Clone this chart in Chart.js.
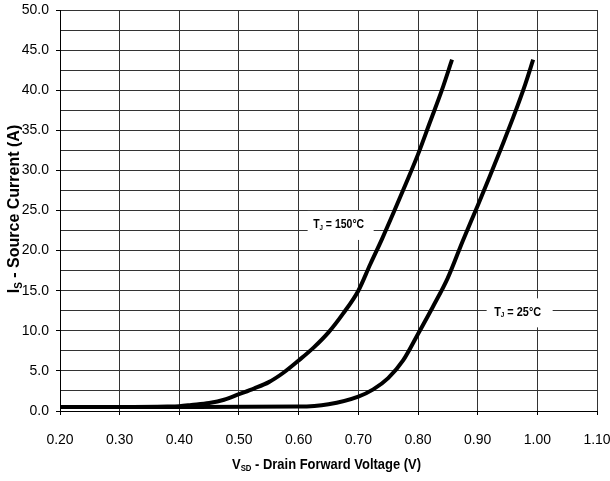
<!DOCTYPE html>
<html>
<head>
<meta charset="utf-8">
<script src="https://cdn.jsdelivr.net/npm/chart.js@4.4.1/dist/chart.umd.min.js"></script>
<style>
  html, body { margin: 0; padding: 0; background: #fff; }
  canvas { display: block; }
</style>
</head>
<body>
<canvas id="chartDiodo" width="610" height="481"></canvas>
<script>
// Curva T_J = 150°C
const voltaje150 = [0.20, 0.30, 0.38, 0.40, 0.42, 0.45, 0.475, 0.50, 0.525, 0.55, 0.575, 0.60, 0.625, 0.65, 0.675, 0.70, 0.72, 0.74, 0.76, 0.78, 0.80, 0.82, 0.84, 0.857]
const corriente150 = [0.5, 0.5, 0.55, 0.6, 0.75, 1.0, 1.4, 2.1, 2.8, 3.6, 4.8, 6.3, 7.9, 9.8, 12.2, 15.0, 18.3, 21.5, 24.9, 28.4, 32.0, 36.0, 40.0, 43.8]

// Curva T_J = 25°C
const voltaje25 = [0.20, 0.40, 0.60, 0.65, 0.70, 0.725, 0.75, 0.775, 0.80, 0.825, 0.85, 0.875, 0.90, 0.92, 0.94, 0.96, 0.98, 0.993]
const corriente25 = [0.5, 0.5, 0.55, 0.85, 1.8, 2.7, 4.1, 6.3, 9.6, 13.0, 16.6, 21.2, 25.6, 29.2, 32.9, 36.7, 40.8, 43.8]

// etiquetas de las curvas: [texto, subindice, resto, voltaje, corriente]
const etiquetas = [
    ['T', 'J', ' = 150°C', 0.667, 23.2],
    ['T', 'J', ' = 25°C', 0.967, 12.3]
]

const ejeX = { min: 0.2, max: 1.1, paso: 0.1 }
const ejeY = { min: 0, max: 50, paso: 2.5, etiqueta: 5 }

const fuente = "'Liberation Sans', Arial, sans-serif"

const puntos = (xs, ys) => xs.map((x, i) => ({ x: x, y: ys[i] }))

// texto con subindice comprimido a lo ancho, devuelve el ancho natural
const textoSub = (ctx, partes, x, y, tam, k, dibujar) => {
    let ancho = 0
    if (dibujar) {
        ctx.save()
        ctx.translate(x, y)
        ctx.scale(k, 1)
    }
    partes.forEach(([txt, sub]) => {
        ctx.font = `bold ${sub ? Math.round(tam * 0.62) : tam}px ${fuente}`
        const w = ctx.measureText(txt).width
        if (dibujar) ctx.fillText(txt, ancho, sub ? tam * 0.25 : 0)
        ancho += w
    })
    if (dibujar) ctx.restore()
    return ancho
}

// dibuja el texto centrado con un ancho final dado
const textoCentrado = (ctx, partes, cx, cy, tam, anchoFinal) => {
    const w = textoSub(ctx, partes, 0, 0, tam, 1, false)
    const k = Math.min(1, anchoFinal / w)
    textoSub(ctx, partes, cx - w * k / 2, cy, tam, k, true)
}

const pluginTextos = {
    id: 'textos',
    afterDatasetsDraw(chart) {
        const { ctx, scales } = chart
        ctx.save()
        ctx.textBaseline = 'middle'
        ctx.textAlign = 'left'
        etiquetas.forEach(([t, s, r, v, c]) => {
            const cx = scales.x.getPixelForValue(v)
            const cy = scales.y.getPixelForValue(c)
            ctx.fillStyle = '#fff'
            ctx.fillRect(cx - 31, cy - 14, 66, 29)
            ctx.fillStyle = '#000'
            textoCentrado(ctx, [[t, false], [s, true], [r, false]], cx, cy, 12, r.length > 7 ? 51 : 47)
        })
        ctx.restore()
    },
    afterDraw(chart) {
        const { ctx, chartArea } = chart
        ctx.save()
        ctx.textBaseline = 'middle'
        ctx.textAlign = 'left'
        ctx.fillStyle = '#000'

        // titulo eje X
        const centroX = (chartArea.left + chartArea.right) / 2
        textoCentrado(ctx, [['V', false], ['SD', true], [' - Drain Forward Voltage (V)', false]], centroX - 2, 465, 15, 189)

        // titulo eje Y
        ctx.translate(15, 209)
        ctx.rotate(-Math.PI / 2)
        textoCentrado(ctx, [['I', false], ['S', true], [' - Source Current (A)', false]], 0, 0, 16, 182)
        ctx.restore()
    }
}

const canvas = document.getElementById('chartDiodo')
const context = canvas.getContext('2d')

const chartDiodo = new Chart(context, {
    type : 'line',
    data : {
        datasets : [
            {
                label : 'TJ = 150°C',
                data : puntos(voltaje150, corriente150),
                borderColor : '#000',
                borderWidth : 4,
                pointRadius : 0,
                cubicInterpolationMode : 'monotone'
            },
            {
                label : 'TJ = 25°C',
                data : puntos(voltaje25, corriente25),
                borderColor : '#000',
                borderWidth : 4,
                pointRadius : 0,
                cubicInterpolationMode : 'monotone'
            }
        ]
    },
    options : {
        responsive : false,
        animation : false,
        layout : { padding : { left : 0, top : 10, right : 13, bottom : 0 } },
        plugins : {
            legend : { display : false },
            tooltip : { enabled : false }
        },
        scales : {
            x : {
                type : 'linear',
                min : ejeX.min,
                max : ejeX.max,
                afterFit : (scale) => {
                    scale.height = 70
                    scale.paddingLeft = 0
                    scale.paddingRight = 0
                },
                border : { color : '#000', width : 1 },
                grid : { color : '#333', tickLength : 4, tickColor : '#000' },
                ticks : {
                    stepSize : ejeX.paso,
                    color : '#000',
                    padding : 17,
                    maxRotation : 0,
                    font : { family : fuente, size : 14 },
                    callback : (v) => v.toFixed(2)
                }
            },
            y : {
                min : ejeY.min,
                max : ejeY.max,
                afterFit : (scale) => {
                    scale.width = 60
                    scale.paddingTop = 0
                    scale.paddingBottom = 0
                },
                border : { color : '#000', width : 1 },
                grid : {
                    color : '#333',
                    tickLength : 4,
                    tickColor : (c) => (c.tick && c.tick.value % ejeY.etiqueta === 0) ? '#000' : 'rgba(0,0,0,0)'
                },
                ticks : {
                    stepSize : ejeY.paso,
                    color : '#000',
                    padding : 7,
                    font : { family : fuente, size : 14 },
                    callback : (v) => v % ejeY.etiqueta === 0 ? v.toFixed(1) : ''
                }
            }
        }
    },
    plugins : [pluginTextos]
})
</script>
</body>
</html>
